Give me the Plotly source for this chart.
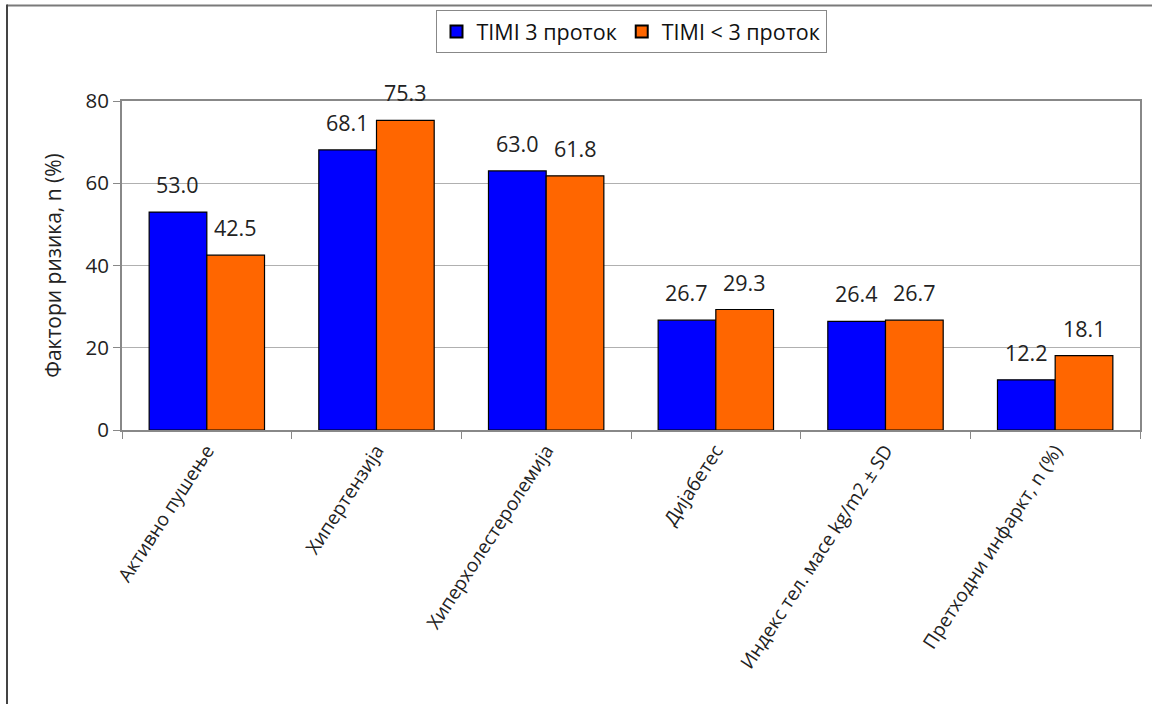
import plotly.graph_objects as go

categories = ["Активно пушење", "Хипертензија", "Хиперхолестеролемија",
              "Дијабетес", "Индекс тел. масе kg/m2 ± SD", "Претходни инфаркт, n (%)"]
timi3 = [53.0, 68.1, 63.0, 26.7, 26.4, 12.2]
timi_lt3 = [42.5, 75.3, 61.8, 29.3, 26.7, 18.1]
series_names = ["TIMI 3 проток", "TIMI < 3 проток"]
y_ticks = [0, 20, 40, 60, 80]

FONT = "Open Sans"
W, H = 1152, 704
ML, MR, MT, MB = 122, 12, 101, 274
PW = W - ML - MR
PH = H - MT - MB

fig = go.Figure()
fig.add_trace(go.Bar(x=categories, y=timi3, name=series_names[0],
                     marker=dict(color="#0000FF", line=dict(color="#000000", width=1.2))))
fig.add_trace(go.Bar(x=categories, y=timi_lt3, name=series_names[1],
                     marker=dict(color="#FF6600", line=dict(color="#000000", width=1.2))))

bargap = 0.32
half = PW / len(categories) * (1 - bargap) / 4
annotations = []
for vals, sh in ((timi3, -half), (timi_lt3, half)):
    for c, v in zip(categories, vals):
        annotations.append(dict(x=c, y=v, xref="x", yref="y", text=f"{v:.1f}",
                                showarrow=False, xshift=sh, yshift=11, yanchor="bottom",
                                font=dict(family=FONT, size=21.5, color="#222222")))

def px_to_paper_x(px):
    return (px - ML) / PW

def px_to_paper_y(py):
    return (H - MB - py) / PH

shapes = [
    dict(type="line", xref="paper", yref="paper", layer="above",
         x0=px_to_paper_x(7), x1=px_to_paper_x(W + 5),
         y0=px_to_paper_y(5.5), y1=px_to_paper_y(5.5),
         line=dict(color="#7a7a7a", width=2)),
    dict(type="line", xref="paper", yref="paper", layer="above",
         x0=px_to_paper_x(7), x1=px_to_paper_x(7),
         y0=px_to_paper_y(H + 5), y1=px_to_paper_y(4.5),
         line=dict(color="#444444", width=2)),
]

fig.update_layout(
    width=W, height=H,
    margin=dict(l=ML, r=MR, t=MT, b=MB, autoexpand=False),
    paper_bgcolor="white", plot_bgcolor="white",
    font=dict(family=FONT, size=20, color="#222222"),
    barmode="group", bargap=bargap, bargroupgap=0,
    showlegend=True,
    legend=dict(orientation="h", x=0.5, xanchor="center",
                y=px_to_paper_y(10), yanchor="top",
                bordercolor="#888888", borderwidth=1, bgcolor="white",
                font=dict(family=FONT, size=21.5, color="#111111"),
                itemsizing="constant", traceorder="normal", itemwidth=30),
    annotations=annotations, shapes=shapes,
)
fig.update_xaxes(type="category", showline=True, linecolor="#888888", linewidth=2, mirror=True,
                 ticks="outside", tickson="boundaries", ticklen=7, tickcolor="#888888",
                 tickangle=-57, showgrid=False,
                 tickfont=dict(family=FONT, size=19, color="#222222"))
fig.update_yaxes(range=[0, 80], tickvals=y_ticks, showline=True, linecolor="#888888",
                 linewidth=2, mirror=True, ticks="outside", ticklen=7, tickcolor="#888888",
                 showgrid=True, gridcolor="#b0b0b0", gridwidth=1, zeroline=False,
                 tickfont=dict(family=FONT, size=20.5, color="#222222"),
                 title=dict(text="Фактори ризика, n (%)", standoff=18,
                            font=dict(family=FONT, size=21, color="#222222")))

fig.write_html("out.html", config={"displayModeBar": False},
               post_script="document.body.style.margin='0';document.body.style.overflow='hidden';")
